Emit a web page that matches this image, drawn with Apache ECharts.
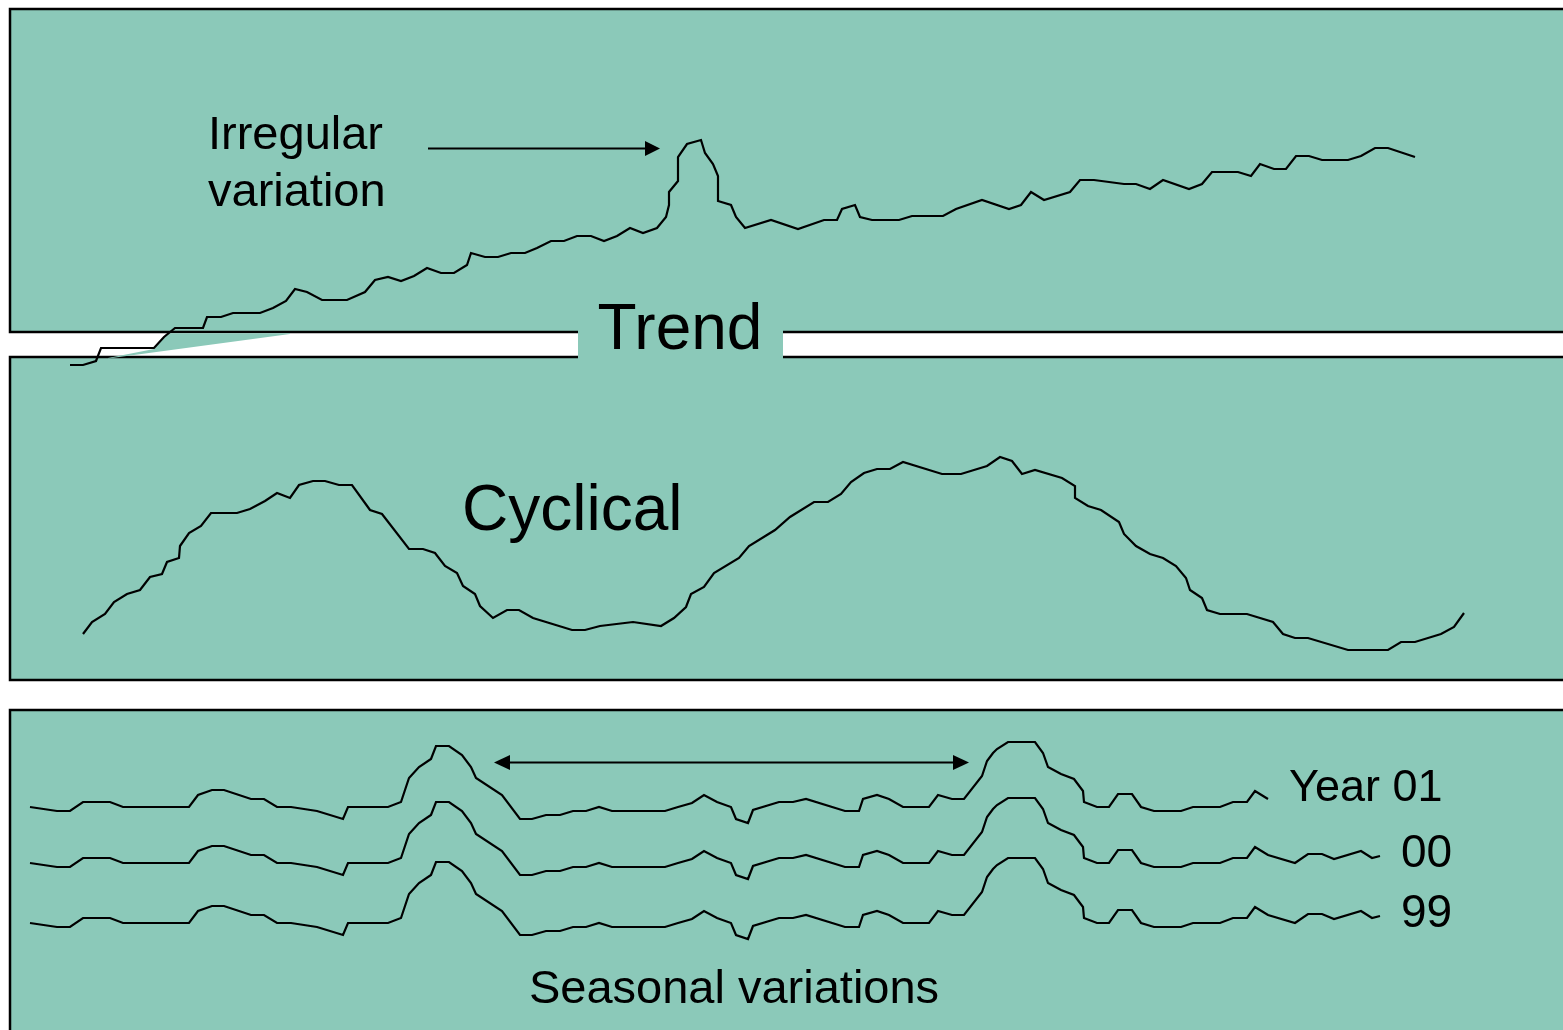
<!DOCTYPE html>
<html>
<head>
<meta charset="utf-8">
<style>
  html, body { margin: 0; padding: 0; background: #ffffff; }
  #chart { width: 1563px; height: 1030px; }
</style>
<script src="https://cdn.jsdelivr.net/npm/echarts@6/dist/echarts.min.js"></script>
</head>
<body>
<div id="chart"></div>
<script>
// ---- data (x = time position, y = level, screen-down axis) ----
const trendPoints = [
  [70,365],[83,365],[96,361],[101,348],[154,348],[164,337],[175,328],[203,328],[207,317],[221,317],
  [233,313],[260,313],[273,308],[286,301],[295,289],[307,292],[322,300],[347,300],[365,292],[375,280],
  [388,277],[401,281],[414,276],[427,268],[441,273],[454,273],[467,265],[471,253],[485,257],[498,257],
  [511,253],[525,253],[537,248],[551,241],[564,241],[577,236],[591,236],[604,241],[617,236],[630,228],
  [643,233],[657,228],[666,217],[669,205],[669,192],[678,181],[678,157],[687,144],[701,140],[705,153],
  [713,164],[718,176],[718,201],[731,205],[736,217],[745,228],[771,220],[798,229],[824,220],[837,220],
  [842,209],[855,205],[860,217],[872,220],[899,220],[912,216],[943,216],[956,209],[982,200],[1009,209],
  [1021,205],[1031,192],[1044,200],[1070,192],[1080,180],[1094,180],[1124,184],[1136,184],[1150,189],[1163,180],
  [1189,189],[1202,184],[1212,172],[1238,172],[1251,176],[1260,164],[1274,169],[1286,169],[1296,156],[1309,156],
  [1322,160],[1348,160],[1361,156],[1375,148],[1388,148],[1415,157]
];

const cyclePoints = [
  [83,634],[92,622],[105,614],[114,602],[127,594],[140,590],[150,577],[162,574],[167,562],[179,558],
  [180,546],[189,533],[201,526],[211,513],[237,513],[250,509],[265,501],[277,493],[290,498],[299,485],
  [313,481],[325,481],[339,485],[352,485],[370,510],[382,514],[409,549],[423,549],[435,553],[445,566],
  [457,573],[463,586],[475,594],[480,606],[493,618],[507,610],[519,610],[533,618],[572,630],[585,630],
  [600,626],[633,622],[661,626],[674,618],[686,607],[691,594],[704,587],[714,573],[739,558],[749,546],
  [775,530],[790,517],[814,502],[828,502],[841,494],[851,482],[864,473],[877,469],[890,469],[903,462],
  [942,474],[961,474],[987,466],[1000,457],[1012,461],[1022,474],[1035,470],[1062,478],[1075,486],[1075,498],
  [1088,506],[1101,510],[1119,522],[1124,534],[1136,546],[1150,554],[1163,558],[1176,566],[1186,578],[1190,590],
  [1202,598],[1207,610],[1220,614],[1247,614],[1273,622],[1283,634],[1295,638],[1308,638],[1348,650],[1388,650],
  [1401,642],[1415,642],[1441,634],[1454,627],[1464,613]
];

const seasonX = [
  30,57,70,83,110,123,189,198,212,224,251,264,277,291,317,343,348,388,401,409,
  419,431,436,449,462,471,476,502,520,532,546,560,573,586,599,612,665,678,692,704,
  717,731,736,748,753,779,793,806,845,859,863,877,889,903,929,938,952,964,982,987,
  993,997,1008,1035,1043,1048,1061,1074,1083,1084,1097,1109,1118,1132,1141,1154,1181,1193,1220,1233,
  1247,1255,1268,1295,1308,1322,1334,1361,1372,1380
];

const year01 = [
  807,811,811,802,802,807,807,795,790,790,799,799,807,807,811,819,807,807,802,778,
  767,759,746,746,755,767,778,795,819,819,815,815,811,811,807,811,811,807,803,795,
  802,807,819,823,810,802,802,799,811,811,799,795,799,807,807,795,799,799,776,761,
  753,749,742,742,753,767,774,779,791,802,807,807,794,794,807,811,811,807,807,802,
  802,791,799
];

const year00 = [
  863,867,867,858,858,863,863,851,846,846,855,855,863,863,867,875,863,863,858,834,
  823,815,802,802,811,823,834,851,875,875,871,871,867,867,863,867,867,863,859,851,
  858,863,875,879,866,858,858,855,867,867,855,851,855,863,863,851,855,855,832,817,
  809,805,798,798,809,823,830,835,847,858,863,863,850,850,863,867,867,863,863,858,
  858,847,855,863,854,854,859,851,858,856
];

const year99 = [
  923,927,927,918,918,923,923,911,906,906,915,915,923,923,927,935,923,923,918,894,
  883,875,862,862,871,883,894,911,935,935,931,931,927,927,923,927,927,923,919,911,
  918,923,935,939,926,918,918,915,927,927,915,911,915,923,923,911,915,915,892,877,
  869,865,858,858,869,883,890,895,907,918,923,923,910,910,923,927,927,923,923,918,
  918,907,915,923,914,914,919,911,918,916
];

const seasonLabels = ['Year 01', '00', '99'];

// ---- chart ----
const TEAL = '#8bc9b9';
const FONT = '"Liberation Sans", Arial, Helvetica, sans-serif';

function pairs(xs, ys) {
  return ys.map((y, i) => [xs[i], y]);
}

function lineSeries(name, data) {
  return {
    name: name,
    type: 'line',
    data: data,
    symbol: 'none',
    z: 5,
    lineStyle: { color: '#000', width: 2.2, join: 'miter' },
    silent: true,
    animation: false
  };
}

const chart = echarts.init(document.getElementById('chart'), null, { renderer: 'canvas' });

const panelStyle = { fill: TEAL, stroke: '#000', lineWidth: 2.5 };

chart.setOption({
  backgroundColor: '#ffffff',
  animation: false,
  grid: { left: 0, right: 0, top: 0, bottom: 0, containLabel: false },
  xAxis: { type: 'value', min: 0, max: 1563, show: false },
  yAxis: { type: 'value', min: 0, max: 1030, inverse: true, show: false },
  graphic: [
    // panels
    { type: 'rect', z: 0, shape: { x: 10, y: 9, width: 1600, height: 323 }, style: panelStyle },
    { type: 'rect', z: 0, shape: { x: 10, y: 357, width: 1600, height: 323 }, style: panelStyle },
    { type: 'rect', z: 0, shape: { x: 10, y: 710, width: 1600, height: 400 }, style: panelStyle },
    // teal wedge joining trend line to lower panel
    { type: 'polygon', z: 1, shape: { points: [[108,358],[154,349],[164,337],[168,333.2],[290,333.2],[290,334],[108,358.5]] }, style: { fill: TEAL } },
    // box behind "Trend"
    { type: 'rect', z: 1, shape: { x: 578, y: 296, width: 205, height: 68 }, style: { fill: TEAL } },
    // texts
    { type: 'text', z: 10, style: { text: 'Irregular', x: 208, y: 136, font: '47px ' + FONT, fill: '#000', textVerticalAlign: 'middle' } },
    { type: 'text', z: 10, style: { text: 'variation', x: 208, y: 193, font: '47px ' + FONT, fill: '#000', textVerticalAlign: 'middle' } },
    { type: 'text', z: 10, style: { text: 'Trend', x: 680, y: 331, font: '64px ' + FONT, fill: '#000', textAlign: 'center', textVerticalAlign: 'middle' } },
    { type: 'text', z: 10, style: { text: 'Cyclical', x: 462, y: 512, font: '64px ' + FONT, fill: '#000', textVerticalAlign: 'middle' } },
    { type: 'text', z: 10, style: { text: seasonLabels[0], x: 1289, y: 789, font: '45px ' + FONT, fill: '#000', textVerticalAlign: 'middle' } },
    { type: 'text', z: 10, style: { text: seasonLabels[1], x: 1401, y: 854, font: '46px ' + FONT, fill: '#000', textVerticalAlign: 'middle' } },
    { type: 'text', z: 10, style: { text: seasonLabels[2], x: 1401, y: 914, font: '46px ' + FONT, fill: '#000', textVerticalAlign: 'middle' } },
    { type: 'text', z: 10, style: { text: 'Seasonal variations', x: 734, y: 990, font: '47px ' + FONT, fill: '#000', textAlign: 'center', textVerticalAlign: 'middle' } },
    // irregular arrow
    { type: 'line', z: 10, shape: { x1: 428, y1: 148.5, x2: 648, y2: 148.5 }, style: { stroke: '#000', lineWidth: 2 } },
    { type: 'polygon', z: 10, shape: { points: [[645,141],[660,148.5],[645,156]] }, style: { fill: '#000' } },
    // seasonal double arrow
    { type: 'line', z: 10, shape: { x1: 505, y1: 762.5, x2: 958, y2: 762.5 }, style: { stroke: '#000', lineWidth: 2 } },
    { type: 'polygon', z: 10, shape: { points: [[510,755],[494,762.5],[510,770]] }, style: { fill: '#000' } },
    { type: 'polygon', z: 10, shape: { points: [[953,755],[969,762.5],[953,770]] }, style: { fill: '#000' } }
  ],
  series: [
    lineSeries('Trend', trendPoints),
    lineSeries('Cyclical', cyclePoints),
    lineSeries('Year 01', pairs(seasonX, year01)),
    lineSeries('Year 00', pairs(seasonX, year00)),
    lineSeries('Year 99', pairs(seasonX, year99))
  ]
});
</script>
</body>
</html>
